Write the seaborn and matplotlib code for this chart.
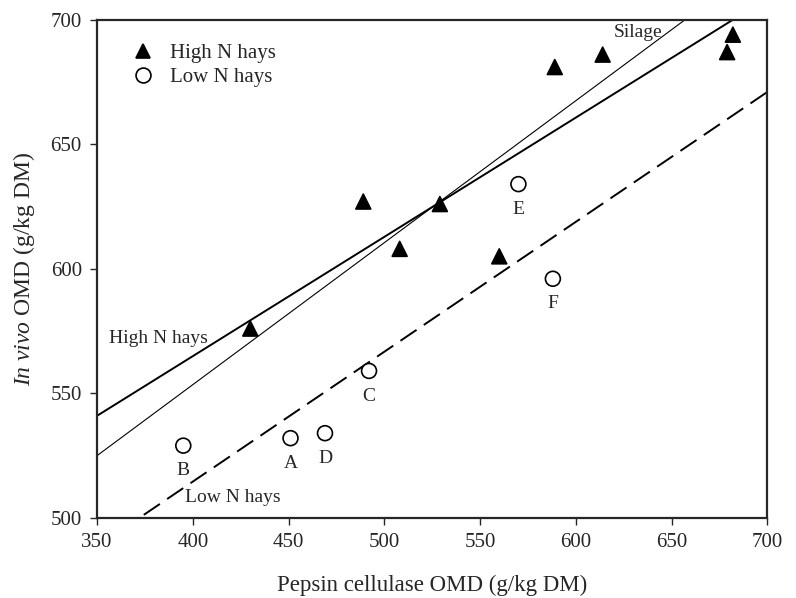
import matplotlib
matplotlib.use("Agg")
import matplotlib.pyplot as plt
import seaborn as sns
import pandas as pd

# Hay samples: pepsin cellulase OMD vs in vivo OMD (g/kg DM)
high_n_x = [430, 489, 508, 529, 560, 589, 614, 679, 682]
high_n_y = [576, 627, 608, 626, 605, 681, 686, 687, 694]

low_n_x = [395, 451, 469, 492, 570, 588]
low_n_y = [529, 532, 534, 559, 634, 596]
low_n_ids = ["B", "A", "D", "C", "E", "F"]

# Fitted relationships (end points across the x range)
high_fit_x = [350, 700]
high_fit_y = [541, 708.6]
silage_fit_x = [350, 700]
silage_fit_y = [525, 724.5]
low_fit_x = [350, 700]
low_fit_y = [488.5, 671]

sns.set_style("ticks")
plt.rcParams["font.family"] = ["Liberation Serif", "DejaVu Serif"]
plt.rcParams["mathtext.fontset"] = "custom"
plt.rcParams["mathtext.rm"] = "Liberation Serif"
plt.rcParams["mathtext.it"] = "Liberation Serif:italic"

fig = plt.figure(figsize=(7.96, 5.98), dpi=100)
ax = fig.add_axes([0.122, 0.134, 0.842, 0.833])

sns.lineplot(x=high_fit_x, y=high_fit_y, ax=ax, color="black", lw=1.4)
sns.lineplot(x=silage_fit_x, y=silage_fit_y, ax=ax, color="black", lw=0.8)
sns.lineplot(x=low_fit_x, y=low_fit_y, ax=ax, color="black", lw=1.4,
             dashes=False, linestyle=(0, (10, 4.5)))

pts = pd.DataFrame({
    "x": high_n_x + low_n_x,
    "y": high_n_y + low_n_y,
    "group": ["High N hays"] * len(high_n_x) + ["Low N hays"] * len(low_n_x),
})
sns.scatterplot(data=pts, x="x", y="y", style="group", hue="group",
                markers={"High N hays": "^", "Low N hays": "o"},
                palette={"High N hays": "black", "Low N hays": "white"},
                edgecolor="black", linewidth=1.2, s=115, ax=ax, zorder=3)

for xi, yi, lab in zip(low_n_x, low_n_y, low_n_ids):
    ax.annotate(lab, (xi, yi), xytext=(0, -12), textcoords="offset points",
                ha="center", va="top", fontsize=14)

ax.text(356, 572, "High N hays", fontsize=14, ha="left", va="center")
ax.text(396, 508, "Low N hays", fontsize=14, ha="left", va="center")
ax.text(620, 695, "Silage", fontsize=14, ha="left", va="center")

ax.set_xlim(350, 700)
ax.set_ylim(500, 700)
ax.set_xticks(range(350, 701, 50))
ax.set_yticks(range(500, 701, 50))
ax.tick_params(labelsize=15, direction="out", length=5, width=1, pad=6)
for sp in ax.spines.values():
    sp.set_visible(True)
    sp.set_linewidth(1.6)

ax.set_xlabel("Pepsin cellulase OMD (g/kg DM)", fontsize=16.5, labelpad=16)
ax.set_ylabel(r"$\it{In\ vivo}$ OMD (g/kg DM)", fontsize=17, labelpad=10)

leg = ax.legend(loc="upper left", bbox_to_anchor=(0.01, 0.99), frameon=False,
                fontsize=15, handletextpad=0.3, labelspacing=0.2,
                markerscale=1.0)

fig.savefig("out.png", dpi=100)
